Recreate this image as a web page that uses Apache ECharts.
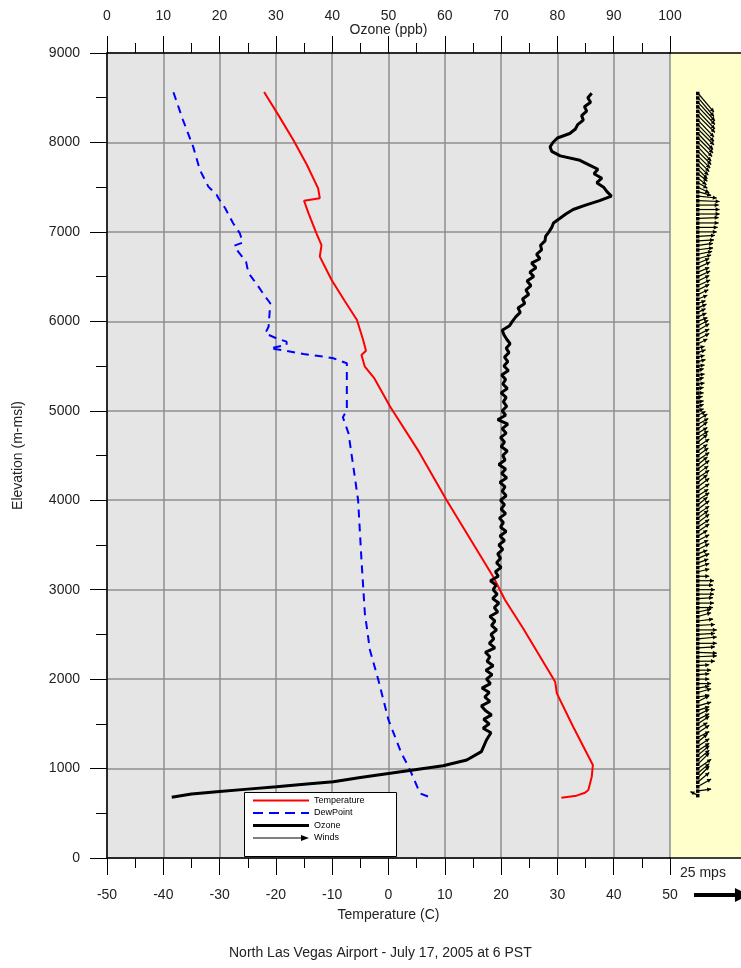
<!DOCTYPE html>
<html>
<head>
<meta charset="utf-8">
<title>North Las Vegas Airport sounding</title>
<script src="https://cdn.jsdelivr.net/npm/echarts@6/dist/echarts.min.js"></script>
<style>
  html, body { margin: 0; padding: 0; background: #fff; }
  #chart { width: 741px; height: 968px; }
</style>
</head>
<body>
<div id="chart"></div>
<script>
// temperature profile: [degC, elevation m]
var tempData = [
  [-22.1, 8564], [-19.5, 8300], [-16.9, 8028], [-14.5, 7750], [-12.5, 7487], [-12.2, 7376],
  [-15.0, 7348], [-14.2, 7207], [-12.8, 6984], [-11.9, 6853], [-12.2, 6723], [-10.1, 6462],
  [-7.8, 6230], [-5.6, 6015], [-4.5, 5791], [-4.0, 5672], [-4.8, 5623], [-4.2, 5493],
  [-2.5, 5362], [0.3, 5046], [5.4, 4543], [10.3, 4003], [18.6, 3145], [20.7, 2885],
  [23.9, 2568], [29.6, 1971], [29.9, 1841], [32.8, 1468], [36.3, 1040], [36.1, 909],
  [35.5, 760], [34.9, 730], [33.4, 697], [30.7, 674]
];

// dew point profile: [degC, elevation m]
var dewData = [
  [-38.2, 8561], [-36.5, 8250], [-34.7, 7953], [-33.5, 7692], [-32.0, 7506], [-30.5, 7413],
  [-30.2, 7376], [-29.0, 7264], [-27.6, 7096], [-26.4, 6984], [-25.9, 6880], [-27.4, 6846],
  [-26.7, 6779], [-25.3, 6667], [-24.9, 6544], [-23.1, 6388], [-21.9, 6276], [-21.0, 6202],
  [-21.3, 5940], [-21.9, 5866], [-19.9, 5810], [-18.1, 5773], [-18.1, 5736], [-21.0, 5699],
  [-19.0, 5680], [-15.1, 5635], [-11.6, 5605], [-9.8, 5587], [-7.4, 5531], [-7.4, 5344],
  [-7.4, 5009], [-8.1, 4927], [-7.1, 4748], [-5.4, 4003], [-4.8, 3332], [-4.2, 2736],
  [-3.3, 2326], [-1.8, 1990], [0.0, 1543], [2.3, 1171], [3.7, 1003], [5.6, 723], [7.1, 685]
];

// ozone profile: [ppb, elevation m]
var ozoneData = [
  [11.5, 679], [15.0, 715], [19.5, 741], [25.0, 770], [30.1, 797], [35.0, 825], [40.2, 853],
  [45.0, 900], [50.3, 947], [55.0, 990], [59.7, 1032], [63.9, 1096], [66.5, 1189], [67.4, 1319],
  [68.2, 1400], [66.8, 1450], [67.9, 1500], [66.9, 1550], [68.3, 1600], [67.2, 1650], [66.5, 1700],
  [68.0, 1750], [67.1, 1800], [67.9, 1850], [66.6, 1900], [68.1, 1950], [67.4, 2000], [68.4, 2050],
  [67.3, 2100], [68.6, 2150], [67.5, 2200], [68.0, 2250], [67.2, 2300], [68.9, 2350], [67.9, 2400],
  [68.7, 2450], [68.2, 2500], [69.2, 2550], [68.3, 2600], [68.9, 2650], [68.0, 2700], [69.4, 2750],
  [68.8, 2800], [69.6, 2850], [68.5, 2900], [69.3, 2950], [68.6, 3000], [69.1, 3050], [68.1, 3100],
  [69.5, 3150], [69.0, 3200], [70.0, 3250], [69.2, 3300], [69.9, 3350], [69.4, 3400], [70.3, 3450],
  [69.6, 3500], [70.6, 3550], [69.8, 3600], [70.9, 3650], [69.9, 3700], [70.4, 3750], [69.7, 3800],
  [70.8, 3850], [70.0, 3900], [70.6, 3950], [69.9, 4000], [70.9, 4050], [70.2, 4100], [70.7, 4150],
  [69.8, 4200], [71.0, 4250], [70.1, 4300], [70.8, 4350], [69.6, 4400], [70.7, 4450], [70.3, 4500],
  [71.1, 4550], [70.0, 4600], [70.6, 4650], [69.9, 4700], [70.9, 4750], [70.2, 4800], [71.2, 4850],
  [69.4, 4900], [70.8, 4950], [70.2, 5000], [71.0, 5050], [70.4, 5100], [70.9, 5150], [70.0, 5200],
  [71.1, 5250], [70.3, 5300], [70.8, 5350], [70.1, 5400], [71.3, 5450], [70.5, 5500], [71.2, 5550],
  [70.6, 5600], [71.4, 5650], [70.9, 5700], [71.6, 5750], [71.0, 5800], [70.5, 5850], [70.2, 5900],
  [71.5, 5950], [72.0, 6000], [72.6, 6050], [73.4, 6100], [73.0, 6150], [74.2, 6200], [73.8, 6250],
  [74.9, 6300], [74.4, 6350], [75.3, 6400], [74.6, 6450], [75.8, 6500], [75.1, 6550], [76.2, 6600],
  [75.4, 6650], [76.9, 6700], [76.3, 6750], [77.2, 6800], [77.0, 6850], [77.8, 6900], [77.9, 6950],
  [78.5, 7000], [79.0, 7050], [79.3, 7100], [80.4, 7150], [81.5, 7200], [82.8, 7250], [85.0, 7300],
  [87.5, 7350], [89.6, 7400], [88.8, 7450], [88.2, 7500], [87.0, 7550], [87.9, 7600], [86.5, 7650],
  [87.2, 7700], [85.6, 7750], [84.0, 7800], [80.5, 7850], [79.0, 7900], [78.7, 7950], [79.2, 8000],
  [80.0, 8050], [82.2, 8100], [83.2, 8150], [83.6, 8200], [84.6, 8250], [84.3, 8300], [85.2, 8350],
  [84.8, 8400], [85.9, 8450], [85.4, 8500], [86.1, 8550]
];

// winds: elevation (m), eastward u and northward v (m/s)
var windElev = [
  700, 750, 800, 850, 900, 950, 1000, 1050, 1100, 1150, 1200, 1250, 1300, 1350, 1400, 1450,
  1500, 1550, 1600, 1650, 1700, 1750, 1800, 1850, 1900, 1950, 2000, 2050, 2100, 2150, 2200, 2250,
  2300, 2350, 2400, 2450, 2500, 2550, 2600, 2650, 2700, 2750, 2800, 2850, 2900, 2950, 3000, 3050,
  3100, 3150, 3200, 3250, 3300, 3350, 3400, 3450, 3500, 3550, 3600, 3650, 3700, 3750, 3800, 3850,
  3900, 3950, 4000, 4050, 4100, 4150, 4200, 4250, 4300, 4350, 4400, 4450, 4500, 4550, 4600, 4650,
  4700, 4750, 4800, 4850, 4900, 4950, 5000, 5050, 5100, 5150, 5200, 5250, 5300, 5350, 5400, 5450,
  5500, 5550, 5600, 5650, 5700, 5750, 5800, 5850, 5900, 5950, 6000, 6050, 6100, 6150, 6200, 6250,
  6300, 6350, 6400, 6450, 6500, 6550, 6600, 6650, 6700, 6750, 6800, 6850, 6900, 6950, 7000, 7050,
  7100, 7150, 7200, 7250, 7300, 7350, 7400, 7450, 7500, 7550, 7600, 7650, 7700, 7750, 7800, 7850,
  7900, 7950, 8000, 8050, 8100, 8150, 8200, 8250, 8300, 8350, 8400, 8450, 8500, 8550
];
var windU = [
  -4, 7, 7, 6, 6, 6, 7, 6, 6, 6, 6, 6, 5, 6, 6, 5,
  6, 6, 6, 6, 7, 6, 6, 7, 6, 7, 6, 6, 7, 6, 9, 10,
  10, 9, 10, 10, 9, 10, 9, 8, 7, 7, 8, 8.5, 8, 8.5, 9, 8,
  8.5, 6, 6, 6, 5.5, 6, 5, 6, 5.5, 6, 5, 6, 6, 6, 5.5, 6,
  6, 5, 6, 5.5, 6, 6, 5, 6, 5.5, 6, 5, 6, 5.5, 5, 6, 5,
  5.5, 5, 5, 5.5, 5, 4, 3, 3, 3, 2.5, 3, 3, 3.5, 3, 3.5, 3,
  3.5, 4, 3.5, 4, 3.5, 5, 6, 6, 6, 5.5, 5, 4.5, 4, 4.5, 4, 5,
  5.5, 6, 6.5, 6, 6.5, 6, 6.5, 6, 7, 7.5, 8, 8, 8.5, 9, 10, 10.5,
  11, 11, 11.5, 11.5, 11, 11.5, 10, 7, 6, 5, 4.5, 5, 5, 5.5, 6, 6.5,
  7, 7, 7.5, 8, 8, 8.5, 8.5, 8.5, 9, 9, 9, 9, 8.5, 8.5
];
var windV = [
  2, 1, 4, 5, 6, 5, 5, 6, 5, 5, 4, 4, 4, 3, 4, 3,
  4, 3, 3, 2, 2, 3, 1, 2, 1, 0, 0, 0.5, 0, 0.5, 0, 0.5,
  -0.5, 0.5, 0, 1, 0.5, 0, 0.5, 1, 2, 1.5, 0, 0, 0.5, 0, 0, 0,
  0, 0, 1.5, 2, 2, 2.5, 2, 3, 2.5, 3, 3, 4, 4, 4.5, 4, 4,
  4.5, 4, 4, 3.5, 4, 4.5, 4, 4, 4, 4.5, 4, 4, 4, 3.5, 4, 4,
  3.5, 3, 3.5, 3, 3, 2, 1, 1, 0.5, 0.5, 0, 0.5, 0.5, 1, 0.5, 1,
  0.5, 1, 1, 1.5, 1, 2.5, 3, 3, 3.5, 3, 2, 2, 2, 2, 1.5, 2,
  2.5, 3, 3, 3, 3, 2.5, 3, 2.5, 2, 1.5, 1, 1, 0.5, 0.5, 0, 0,
  0, 0.5, 0, 0, 0, -0.5, -1, -2, -3, -3, -3.5, -4, -5, -5.5, -6, -6.5,
  -7, -7.5, -7.5, -8, -8.5, -8.5, -9, -9, -9, -9.5, -9.5, -10, -10, -10
];

var tempTicks = [-50, 50, 10];
var ozoneTicks = [0, 100, 10];
var elevTicks = [0, 9000, 1000];
var windRange = [-14.9, 22.9]; // m/s across the wind panel
var windScaleMps = 25;

var chart = echarts.init(document.getElementById('chart'));

var fontFamily = '"Liberation Sans", Arial, sans-serif';
var labelStyle = { color: '#222', fontSize: 14, fontFamily: fontFamily };
var plainNumber = function (v) { return String(v); };

var windRows = windElev.map(function (e, i) { return [windU[i], e, windV[i]]; });

// 风矢量：底点 + 箭杆 + 箭头
function renderWind(params, api) {
  var base = api.coord([0, api.value(1)]);
  var s = api.size([1, 0])[0];
  var tip = [base[0] + api.value(0) * s, base[1] - api.value(2) * s];
  var ang = Math.atan2(tip[1] - base[1], tip[0] - base[0]);
  var h = 4.5;
  var p1 = [tip[0] - h * Math.cos(ang - 0.5), tip[1] - h * Math.sin(ang - 0.5)];
  var p2 = [tip[0] - h * Math.cos(ang + 0.5), tip[1] - h * Math.sin(ang + 0.5)];
  return {
    type: 'group',
    children: [
      { type: 'rect', shape: { x: base[0] - 2, y: base[1] - 1.5, width: 3.5, height: 3.5 }, style: { fill: '#000' } },
      { type: 'line', shape: { x1: base[0], y1: base[1], x2: tip[0], y2: tip[1] }, style: { stroke: '#000', lineWidth: 1.2 } },
      { type: 'polygon', shape: { points: [tip, p1, p2] }, style: { fill: '#000' } }
    ]
  };
}

var axisLine = { show: true, onZero: false, lineStyle: { color: '#000', width: 1.5 } };
var splitLine = { show: true, lineStyle: { color: '#8e8e8e', width: 1.5 } };

var options = {
  animation: false,
  backgroundColor: '#fff',
  title: {
    text: 'North Las Vegas Airport - July 17, 2005 at 6 PST',
    left: 229,
    top: 946,
    padding: 0,
    textStyle: { color: '#222', fontSize: 14, fontWeight: 'normal', fontFamily: fontFamily }
  },
  legend: {
    orient: 'vertical',
    left: 253,
    top: 796,
    padding: 0,
    itemGap: 3.5,
    itemWidth: 56,
    itemHeight: 10,
    symbolKeepAspect: true,
    textStyle: { color: '#000', fontSize: 9, fontFamily: fontFamily },
    data: [
      { name: 'Temperature', icon: 'path://M0,4 L56,4 L56,6 L0,6 Z' },
      { name: 'DewPoint', icon: 'path://M0,4 L10,4 L10,6 L0,6 Z M16,4 L26,4 L26,6 L16,6 Z M32,4 L42,4 L42,6 L32,6 Z M48,4 L56,4 L56,6 L48,6 Z' },
      { name: 'Ozone', icon: 'path://M0,3.5 L56,3.5 L56,6.5 L0,6.5 Z' },
      { name: 'Winds', icon: 'path://M0,4.6 L48,4.6 L48,2 L56,5 L48,8 L48,5.4 L0,5.4 Z' }
    ]
  },
  grid: [
    { left: 107, top: 53, width: 563, height: 805, show: true, backgroundColor: '#e5e5e5', borderWidth: 0, outerBoundsMode: 'none' },
    { left: 670, top: 53, width: 71, height: 805, show: true, backgroundColor: '#ffffcc', borderWidth: 0, outerBoundsMode: 'none' }
  ],
  xAxis: [
    {
      type: 'value', gridIndex: 0, position: 'bottom',
      min: tempTicks[0], max: tempTicks[1], interval: tempTicks[2],
      name: 'Temperature (C)', nameLocation: 'middle', nameGap: 50, nameMoveOverlap: false,
      nameTextStyle: labelStyle,
      axisLine: axisLine,
      axisTick: { show: true, length: 17, lineStyle: { color: '#000' } },
      minorTick: { show: true, splitNumber: 2, length: 10, lineStyle: { color: '#000' } },
      axisLabel: Object.assign({ margin: 30, formatter: plainNumber }, labelStyle),
      splitLine: splitLine
    },
    {
      type: 'value', gridIndex: 0, position: 'top',
      min: ozoneTicks[0], max: ozoneTicks[1], interval: ozoneTicks[2],
      name: 'Ozone (ppb)', nameLocation: 'middle', nameGap: 16, nameMoveOverlap: false,
      nameTextStyle: labelStyle,
      axisLine: axisLine,
      axisTick: { show: true, length: 17, lineStyle: { color: '#000' } },
      minorTick: { show: true, splitNumber: 2, length: 10, lineStyle: { color: '#000' } },
      axisLabel: Object.assign({ margin: 30, formatter: plainNumber }, labelStyle),
      splitLine: { show: false }
    },
    {
      type: 'value', gridIndex: 1, position: 'bottom',
      min: windRange[0], max: windRange[1],
      axisLine: axisLine, axisTick: { show: false }, axisLabel: { show: false }, splitLine: { show: false }
    },
    {
      type: 'value', gridIndex: 1, position: 'top',
      min: windRange[0], max: windRange[1],
      axisLine: axisLine, axisTick: { show: false }, axisLabel: { show: false }, splitLine: { show: false }
    }
  ],
  yAxis: [
    {
      type: 'value', gridIndex: 0,
      min: elevTicks[0], max: elevTicks[1], interval: elevTicks[2],
      name: 'Elevation (m-msl)', nameLocation: 'middle', nameGap: 82, nameRotate: 90, nameMoveOverlap: false,
      nameTextStyle: labelStyle,
      axisLine: axisLine,
      axisTick: { show: true, length: 17, lineStyle: { color: '#000' } },
      minorTick: { show: true, splitNumber: 2, length: 11, lineStyle: { color: '#000' } },
      axisLabel: Object.assign({ margin: 27, formatter: plainNumber }, labelStyle),
      splitLine: splitLine
    },
    {
      type: 'value', gridIndex: 1, show: false,
      min: elevTicks[0], max: elevTicks[1]
    }
  ],
  series: [
    {
      name: 'Temperature', type: 'line', xAxisIndex: 0, yAxisIndex: 0,
      data: tempData, showSymbol: false, symbol: 'none',
      lineStyle: { color: '#ff0000', width: 2 }, itemStyle: { color: '#ff0000' }
    },
    {
      name: 'DewPoint', type: 'line', xAxisIndex: 0, yAxisIndex: 0,
      data: dewData, showSymbol: false, symbol: 'none',
      lineStyle: { color: '#0000ff', width: 2, type: [8, 6] }, itemStyle: { color: '#0000ff' }
    },
    {
      name: 'Ozone', type: 'line', xAxisIndex: 1, yAxisIndex: 0,
      data: ozoneData, showSymbol: false, symbol: 'none',
      lineStyle: { color: '#000', width: 3 }, itemStyle: { color: '#000' }
    },
    {
      name: 'Winds', type: 'custom', xAxisIndex: 2, yAxisIndex: 1,
      data: windRows, encode: { x: 0, y: 1 },
      renderItem: renderWind, itemStyle: { color: '#000' }, clip: false
    }
  ]
};

chart.setOption(options);

// 图例框 + 25 mps 比例箭头
var x0 = chart.convertToPixel({ xAxisIndex: 2 }, 0);
var x25 = chart.convertToPixel({ xAxisIndex: 2 }, windScaleMps);
chart.setOption({
  graphic: [
    { type: 'rect', z: 3, shape: { x: 244.5, y: 792.5, width: 152, height: 64 },
      style: { fill: '#fff', stroke: '#000', lineWidth: 1 } },
    { type: 'text', x: 680, y: 866, style: { text: windScaleMps + ' mps', fill: '#222', fontSize: 14, fontFamily: fontFamily } },
    { type: 'line', shape: { x1: x0 - 4, y1: 895, x2: x25 - 6, y2: 895 }, style: { stroke: '#000', lineWidth: 4 } },
    { type: 'polygon', shape: { points: [[x25 + 4, 895], [x25 - 10, 888], [x25 - 10, 902]] }, style: { fill: '#000' } }
  ]
});
</script>
</body>
</html>
